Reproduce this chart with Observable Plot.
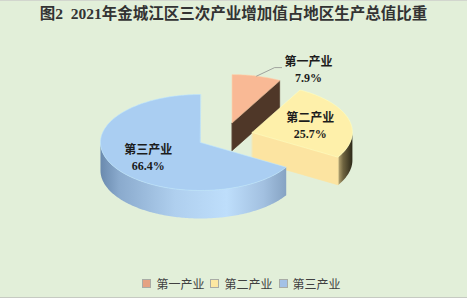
<!DOCTYPE html>
<html>
<head>
<meta charset="utf-8">
<script src="https://cdn.jsdelivr.net/npm/d3@7"></script>
<script src="https://cdn.jsdelivr.net/npm/@observablehq/plot@0.6"></script>
<style>
  html, body { margin: 0; padding: 0; background: #fff; }
  #chart {
    width: 467px; height: 298px; box-sizing: border-box;
    background: #e2efd9; border-top: 1px solid #d2d6ce; border-bottom: 1px solid #c6cac2;
    overflow: hidden;
  }
  #title {
    height: 33px; line-height: 34px; text-align: center; white-space: pre;
    font: bold 15.5px "Liberation Serif", "Noto Sans CJK SC", serif; color: #333;
  }
  #plot svg { display: block; }
  #legend {
    height: 35px; box-sizing: border-box; padding: 8px 0 0 16px;
    display: flex; justify-content: center; align-items: center; gap: 6px;
    font: 12px "Noto Sans CJK SC", sans-serif; color: #404040;
  }
  #legend .item { display: flex; align-items: center; height: 14px; }
  #legend .sw { width: 7px; height: 7px; border: 1px solid #a9aca6; margin-right: 5px; }
</style>
</head>
<body>
<div id="chart">
  <div id="title">图2  2021年金城江区三次产业增加值占地区生产总值比重</div>
  <div id="plot"></div>
  <div id="legend"></div>
</div>
<script>
// Sector names and their shares of regional GDP (%)
const sectors = ["第一产业", "第二产业", "第三产业"];
const shares = [7.9, 25.7, 66.4];

// Face colours per sector
const topFill = ["#f9b995", "#fef0aa", "#aacef2"];
const cutFill = ["#4f3728", "#fce4a1", "#9dbfe4"];
const wallFill = ["url(#wall1)", "url(#wall2)", "url(#wall3)"];
const legendFill = ["#e5a283", "#fde8a2", "#a3c1e6"];

const W = 467, H = 228;
const tilt = 0.48;      // vertical squash of the pie disc
const depth = 0.28;     // thickness of the disc
const explode = 0.283;  // how far each slice is pulled out
const TAU = Math.PI * 2;

const total = d3.sum(shares);
let acc = 0;
const slices = shares.map((v, i) => {
  const a0 = acc / total * TAU; acc += v;
  const a1 = acc / total * TAU;
  const m = (a0 + a1) / 2;
  return {i, name: sectors[i], value: v, a0, a1, m,
          cx: explode * Math.sin(m), cy: explode * Math.cos(m) * tilt};
});

// point on a slice at angle a (clockwise from 12 o'clock), radius r, dropped by drop
const at = (s, a, r = 1, drop = 0) => ({x: s.cx + r * Math.sin(a), y: s.cy + r * Math.cos(a) * tilt - drop});
const arc = (s, from, to, drop = 0) => {
  const n = Math.max(2, Math.ceil(Math.abs(to - from) / (Math.PI / 180)));
  return d3.range(n + 1).map(k => at(s, from + (to - from) * k / n, 1, drop));
};
const cut = (s, a) => [at(s, a, 0), at(s, a), at(s, a, 1, depth), at(s, a, 0, depth)];

const face = (pts, fill, stroke) =>
  Plot.line(pts, {x: "x", y: "y", fill, stroke, strokeWidth: 0.6, curve: "linear-closed"});

// back slices first
const order = slices.slice().sort((a, b) => b.cy - a.cy);
const marks = [];
for (const s of order) {
  const lo = Math.max(s.a0, Math.PI / 2), hi = Math.min(s.a1, 3 * Math.PI / 2);
  if (lo < hi) marks.push(face([...arc(s, lo, hi), ...arc(s, hi, lo, depth)], wallFill[s.i], "none"));
  if (Math.sin(s.a1) > 1e-6) marks.push(face(cut(s, s.a1), cutFill[s.i], cutFill[s.i]));
  if (-Math.sin(s.a0) > 1e-6) marks.push(face(cut(s, s.a0), cutFill[s.i], cutFill[s.i]));
  marks.push(face([at(s, 0, 0), ...arc(s, s.a0, s.a1)], topFill[s.i], d3.color(topFill[s.i]).brighter(0.3).formatHex()));
}

// labels: large slices inside, the small one outside with a leader line
const fmt = v => `${v.toFixed(1)}%`;
const inside = slices.filter(s => s.value >= 20).map(s => ({...at(s, s.m, 0.6), text: `${s.name}\n${fmt(s.value)}`}));
const outside = slices.filter(s => s.value < 20);
const leaders = [], outerLabels = [];
for (const s of outside) {
  const e = at(s, s.m, 1);
  leaders.push({...e, k: s.i}, {x: e.x + 0.18, y: e.y + 0.085, k: s.i}, {x: e.x + 0.25, y: e.y + 0.085, k: s.i});
  outerLabels.push({x: e.x + 0.52, y: e.y + 0.075, text: `${s.name}\n${fmt(s.value)}`});
}
const labelStyle = {x: "x", y: "y", text: "text", fontSize: 12, fontWeight: "bold", lineHeight: 1.33,
  fontFamily: "'Liberation Serif', 'Noto Sans CJK SC', serif", fill: "#1c1c1c"};
marks.push(
  Plot.line(leaders, {x: "x", y: "y", z: "k", stroke: "#8e8e8e", strokeWidth: 0.8}),
  Plot.text(inside, labelStyle),
  Plot.text(outerLabels, labelStyle)
);

const svg = Plot.plot({
  width: W, height: H, margin: 0, axis: null,
  style: {background: "transparent", overflow: "visible"},
  x: {domain: [-2.246, 2.424], range: [0, W]},
  y: {domain: [-1.267, 1.013], range: [H, 0]},
  marks
});

// side-wall shading gradients
const defs = d3.select(svg).insert("defs", ":first-child");
const grad = (id, stops) => {
  const g = defs.append("linearGradient").attr("id", id).attr("x1", 0).attr("x2", 1).attr("y1", 0).attr("y2", 0);
  stops.forEach(([o, c]) => g.append("stop").attr("offset", o).attr("stop-color", c));
};
grad("wall1", [[0, "#6e4e3a"], [1, "#4a3224"]]);
grad("wall2", [[0, "#b9a874"], [0.35, "#6f6440"], [1, "#2c2818"]]);
grad("wall3", [[0, "#6a8aae"], [0.1, "#8aaacd"], [0.4, "#afcfee"], [0.68, "#bedefb"], [0.88, "#a2c0e0"], [1, "#86a3c3"]]);

document.getElementById("plot").appendChild(svg);

// legend
const legend = d3.select("#legend");
sectors.forEach((name, i) => {
  const item = legend.append("div").attr("class", "item");
  item.append("div").attr("class", "sw").style("background", legendFill[i]);
  item.append("span").text(name);
});
</script>
</body>
</html>
